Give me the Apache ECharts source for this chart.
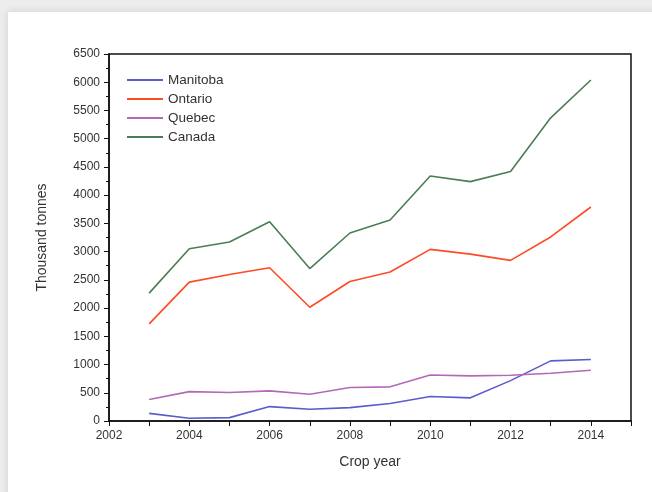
<!DOCTYPE html>
<html>
<head>
<meta charset="utf-8">
<script src="https://cdn.jsdelivr.net/npm/echarts@6/dist/echarts.min.js"></script>
<style>
  html, body { margin: 0; padding: 0; width: 652px; height: 492px; background: #ededed; overflow: hidden; }
  #card { position: absolute; left: 8px; top: 12px; width: 660px; height: 500px; background: #fff;
          box-shadow: 0 0 8px rgba(0,0,0,0.12); }
  #chart { position: absolute; left: 0; top: 0; width: 652px; height: 492px; }
</style>
</head>
<body>
<div id="card"></div>
<div id="chart"></div>
<script>
// Crop years and production (thousand tonnes)
const years    = [2003, 2004, 2005, 2006, 2007, 2008, 2009, 2010, 2011, 2012, 2013, 2014];
const manitoba = [135, 48, 60, 255, 208, 237, 310, 433, 410, 715, 1065, 1090];
const ontario  = [1720, 2460, 2595, 2715, 2015, 2470, 2640, 3040, 2955, 2845, 3260, 3790];
const quebec   = [380, 520, 505, 533, 475, 592, 605, 815, 800, 810, 845, 900];
const canada   = [2265, 3050, 3170, 3530, 2700, 3330, 3560, 4340, 4240, 4420, 5370, 6040];

const seriesNames  = ['Manitoba', 'Ontario', 'Quebec', 'Canada'];
const seriesValues = [manitoba, ontario, quebec, canada];
const seriesColors = ['#5a5ccc', '#ff4a26', '#b468b8', '#4b7d55'];

const chart = echarts.init(document.getElementById('chart'), null, { renderer: 'canvas' });

const font = 'Liberation Sans, Arial, sans-serif';

const option = {
  backgroundColor: 'transparent',
  animation: false,
  grid: { left: 109, right: 21, top: 54, bottom: 71, show: true, borderColor: '#111', borderWidth: 1.5, backgroundColor: 'transparent' },
  legend: {
    left: 122, top: 68, orient: 'vertical', itemGap: 5, itemWidth: 36, itemHeight: 12,
    icon: 'path://M0,5 L36,5 L36,7 L0,7 Z',
    textStyle: { fontFamily: font, fontSize: 13.5, color: '#333' },
    data: seriesNames
  },
  xAxis: {
    type: 'value', min: 2002, max: 2015, interval: 2,
    name: 'Crop year', nameLocation: 'middle', nameGap: 34,
    nameTextStyle: { fontFamily: font, fontSize: 14, color: '#333' },
    axisLine: { lineStyle: { color: '#111', width: 1.5 } },
    axisTick: { show: true, length: 5, lineStyle: { color: '#111' } },
    minorTick: { show: true, splitNumber: 2, length: 5, lineStyle: { color: '#111' } },
    splitLine: { show: false },
    axisLabel: { fontFamily: font, fontSize: 12, color: '#333', margin: 9, showMaxLabel: false,
                 formatter: v => String(v) }
  },
  yAxis: {
    type: 'value', min: 0, max: 6500, interval: 500,
    name: 'Thousand tonnes', nameLocation: 'middle', nameGap: 60, nameRotate: 90,
    nameTextStyle: { fontFamily: font, fontSize: 14, color: '#333' },
    axisLine: { show: true, lineStyle: { color: '#111', width: 1.5 } },
    axisTick: { show: true, length: 5, lineStyle: { color: '#111' } },
    minorTick: { show: true, splitNumber: 2, length: 3, lineStyle: { color: '#111' } },
    splitLine: { show: false },
    axisLabel: { fontFamily: font, fontSize: 12, color: '#333', margin: 9, formatter: v => String(v) }
  },
  series: seriesNames.map((name, i) => ({
    name: name,
    type: 'line',
    symbol: 'none',
    color: seriesColors[i],
    lineStyle: { width: 1.6, color: seriesColors[i] },
    data: years.map((y, j) => [y, seriesValues[i][j]])
  }))
};

chart.setOption(option);
</script>
</body>
</html>
